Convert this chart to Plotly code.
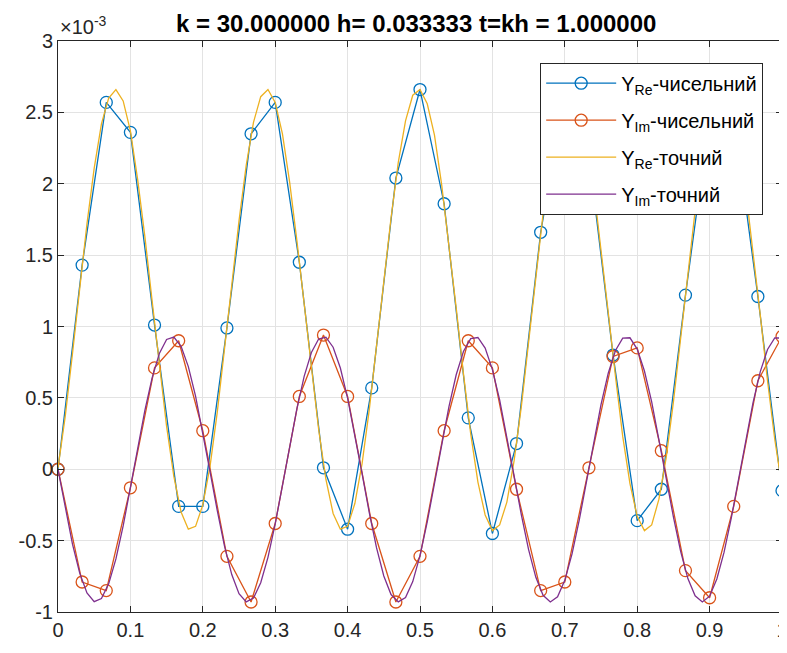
import plotly.graph_objects as go

# ---------------- data (values in units of 1e-3) ----------------
h = 1 / 30
t_num = [round(i * h, 5) for i in range(31)]
re_num = [0.00, 1.43, 2.57, 2.36, 1.01, -0.26, -0.26, 0.99, 2.35, 2.57, 1.45,
          0.01, -0.42, 0.57, 2.04, 2.66, 1.86, 0.36, -0.45, 0.18, 1.66,
          2.62, 2.20, 0.80, -0.36, -0.14, 1.22, 2.47, 2.48, 1.21, -0.15]
im_num = [0.00, -0.79, -0.85, -0.13, 0.71, 0.90, 0.27, -0.61, -0.93, -0.38, 0.51,
          0.94, 0.51, -0.38, -0.93, -0.61, 0.27, 0.90, 0.71, -0.14, -0.85,
          -0.79, 0.01, 0.79, 0.85, 0.13, -0.71, -0.90, -0.26, 0.62, 0.93]

t_ex = [round(i * 0.01, 2) for i in range(101)]
re_ex = [0.01, 0.37, 0.81, 1.27, 1.72, 2.11, 2.42, 2.60, 2.66, 2.58,
         2.37, 2.03, 1.63, 1.18, 0.72, 0.30, -0.05, -0.30, -0.42, -0.40,
         -0.25, 0.02, 0.40, 0.83, 1.29, 1.74, 2.13, 2.43, 2.61, 2.66,
         2.57, 2.35, 2.01, 1.60, 1.16, 0.70, 0.28, -0.07, -0.31, -0.42,
         -0.40, -0.24, 0.04, 0.42, 0.86, 1.32, 1.76, 2.15, 2.44, 2.62,
         2.66, 2.56, 2.34, 1.99, 1.58, 1.13, 0.67, 0.25, -0.09, -0.32,
         -0.43, -0.39, -0.23, 0.06, 0.44, 0.88, 1.35, 1.79, 2.17, 2.46,
         2.62, 2.66, 2.55, 2.32, 1.97, 1.55, 1.10, 0.65, 0.23, -0.10,
         -0.33, -0.43, -0.39, -0.21, 0.08, 0.47, 0.91, 1.37, 1.81, 2.19,
         2.47, 2.63, 2.65, 2.54, 2.30, 1.95, 1.53, 1.08, 0.62, 0.21,
         -0.12]
im_ex = [0.000, -0.275, -0.525, -0.728, -0.867, -0.928, -0.906, -0.803, -0.628, -0.397,
         -0.131, 0.147, 0.412, 0.640, 0.811, 0.909, 0.926, 0.861, 0.719, 0.512,
         0.260, -0.016, -0.290, -0.538, -0.738, -0.872, -0.929, -0.902, -0.795, -0.617,
         -0.383, -0.116, 0.162, 0.425, 0.651, 0.818, 0.912, 0.925, 0.855, 0.709,
         0.499, 0.245, -0.031, -0.305, -0.551, -0.748, -0.878, -0.929, -0.898, -0.787,
         -0.605, -0.369, -0.100, 0.178, 0.439, 0.662, 0.825, 0.915, 0.923, 0.849,
         0.698, 0.486, 0.230, -0.047, -0.320, -0.563, -0.757, -0.883, -0.930, -0.894,
         -0.778, -0.593, -0.355, -0.085, 0.193, 0.453, 0.673, 0.832, 0.918, 0.921,
         0.842, 0.688, 0.472, 0.214, -0.062, -0.334, -0.575, -0.766, -0.887, -0.930,
         -0.889, -0.769, -0.581, -0.340, -0.069, 0.208, 0.467, 0.684, 0.839, 0.920,
         0.919]

x_ticks = [0, 0.1, 0.2, 0.3, 0.4, 0.5, 0.6, 0.7, 0.8, 0.9, 1]
x_labels = ["0", "0.1", "0.2", "0.3", "0.4", "0.5", "0.6", "0.7", "0.8", "0.9", "1"]
y_ticks = [-1, -0.5, 0, 0.5, 1, 1.5, 2, 2.5, 3]
y_labels = ["-1", "-0.5", "0", "0.5", "1", "1.5", "2", "2.5", "3"]

names = ["Y<sub>Re</sub>-чисельний", "Y<sub>Im</sub>-чисельний",
         "Y<sub>Re</sub>-точний", "Y<sub>Im</sub>-точний"]
colors = ["#0072BD", "#D95319", "#EDB120", "#7E2F8E"]

FONT = "Liberation Sans, Arial, Helvetica, sans-serif"
AX = "#262626"

fig = go.Figure()
fig.add_trace(go.Scatter(x=t_num, y=re_num, mode="lines+markers", name=names[0],
                         legendgroup="a", cliponaxis=False,
                         line=dict(color=colors[0], width=1.3),
                         marker=dict(symbol="circle-open", size=12,
                                     line=dict(width=1.3, color=colors[0]))))
fig.add_trace(go.Scatter(x=t_num, y=im_num, mode="lines+markers", name=names[1],
                         legendgroup="b", cliponaxis=False,
                         line=dict(color=colors[1], width=1.3),
                         marker=dict(symbol="circle-open", size=12,
                                     line=dict(width=1.3, color=colors[1]))))
fig.add_trace(go.Scatter(x=t_ex, y=re_ex, mode="lines", name=names[2],
                         legendgroup="c",
                         line=dict(color=colors[2], width=1.3)))
fig.add_trace(go.Scatter(x=t_ex, y=im_ex, mode="lines", name=names[3],
                         legendgroup="d",
                         line=dict(color=colors[3], width=1.3)))

axis_common = dict(showline=True, linecolor=AX, linewidth=1, mirror="ticks",
                   ticks="inside", ticklen=6, tickcolor=AX, tickwidth=1,
                   showgrid=True, gridcolor="#e3e3e3", gridwidth=1,
                   zeroline=False, ticklabeloverflow="allow", automargin=False,
                   tickfont=dict(family=FONT, size=20, color=AX))

fig.update_xaxes(range=[0, 1], tickvals=x_ticks, ticktext=x_labels, **axis_common)
fig.update_yaxes(range=[-1, 3], tickvals=y_ticks, ticktext=y_labels, **axis_common)

fig.update_layout(
    width=779, height=645,
    margin=dict(l=50, r=5, t=33, b=41, autoexpand=False),
    paper_bgcolor="white", plot_bgcolor="white",
    font=dict(family=FONT, color=AX),
    title=dict(text="<b>k = 30.000000 h= 0.033333 t=kh = 1.000000</b>",
               font=dict(family=FONT, size=24, color="black"),
               x=0.524, xanchor="center", xref="container",
               y=0.976, yanchor="middle", yref="container"),
    legend=dict(x=0.974, xanchor="right", y=0.962, yanchor="top",
                bgcolor="white", bordercolor=AX, borderwidth=1,
                font=dict(family=FONT, size=20, color="black"),
                itemwidth=70, tracegroupgap=8),
    showlegend=True,
    annotations=[dict(text="×10<sup>-3</sup>", xref="paper", yref="paper",
                      x=0.0, y=1.0, xanchor="left", yanchor="bottom",
                      yshift=1, showarrow=False,
                      font=dict(family=FONT, size=20, color=AX))],
)

fig.write_html("out.html")
